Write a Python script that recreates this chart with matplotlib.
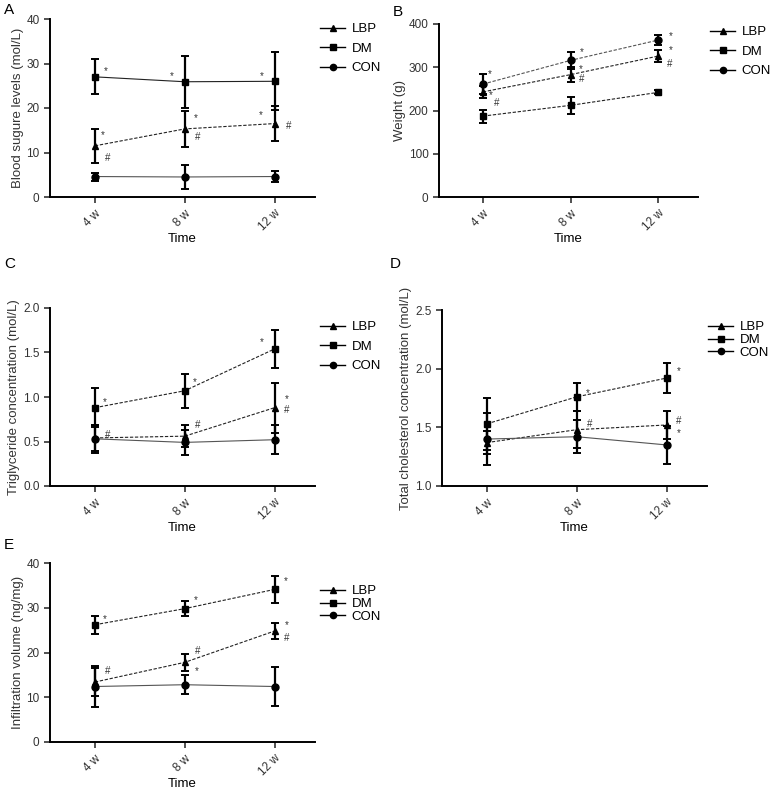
import matplotlib
matplotlib.use("Agg")
import matplotlib.pyplot as plt
from matplotlib.ticker import FormatStrFormatter

plt.rcParams["font.family"] = ["Liberation Sans", "DejaVu Sans"]

# ------------------------------------------------------------------ #
#  Data (mean, error)
# ------------------------------------------------------------------ #
times = ["4 w", "8 w", "12 w"]
groups = ["LBP", "DM", "CON"]

# A: blood sugar
sugar_lbp = [11.5, 15.3, 16.5]
sugar_lbp_err = [3.8, 4.0, 4.0]
sugar_dm = [27.0, 25.9, 26.0]
sugar_dm_err = [3.9, 5.8, 6.5]
sugar_con = [4.6, 4.5, 4.6]
sugar_con_err = [0.9, 2.7, 1.3]

# B: weight
weight_lbp = [243, 283, 326]
weight_lbp_err = [13, 17, 15]
weight_dm = [187, 212, 242]
weight_dm_err = [15, 19, 5]
weight_con = [261, 316, 363]
weight_con_err = [23, 20, 11]

# C: triglyceride
tg_lbp = [0.54, 0.56, 0.88]
tg_lbp_err = [0.15, 0.12, 0.28]
tg_dm = [0.88, 1.07, 1.54]
tg_dm_err = [0.22, 0.19, 0.21]
tg_con = [0.53, 0.49, 0.52]
tg_con_err = [0.16, 0.14, 0.16]

# D: total cholesterol
tc_lbp = [1.37, 1.48, 1.52]
tc_lbp_err = [0.10, 0.16, 0.12]
tc_dm = [1.53, 1.76, 1.92]
tc_dm_err = [0.22, 0.12, 0.13]
tc_con = [1.40, 1.42, 1.35]
tc_con_err = [0.22, 0.14, 0.16]

# E: infiltration volume
inf_lbp = [13.4, 17.8, 24.8]
inf_lbp_err = [3.2, 1.9, 1.7]
inf_dm = [26.2, 29.8, 34.1]
inf_dm_err = [2.0, 1.7, 3.0]
inf_con = [12.4, 12.8, 12.4]
inf_con_err = [4.5, 2.1, 4.4]

# significance marks: (group, time index, symbol, dx pt, dy pt)
marks_a = [("DM", 0, "*", 8, 4), ("DM", 1, "*", -9, 4), ("DM", 2, "*", -9, 4),
           ("LBP", 0, "*", 6, 8), ("LBP", 0, "#", 9, -9), ("LBP", 1, "*", 8, 8),
           ("LBP", 1, "#", 9, -6), ("LBP", 2, "*", -10, 6), ("LBP", 2, "#", 10, -2)]
marks_b = [("CON", 0, "*", 5, 7), ("CON", 1, "*", 8, 6), ("CON", 2, "*", 9, 3),
           ("LBP", 0, "*", 6, -2), ("LBP", 0, "#", 10, -8), ("LBP", 1, "*", 7, 4),
           ("LBP", 1, "#", 8, -3), ("LBP", 2, "*", 9, 4), ("LBP", 2, "#", 8, -6)]
marks_c = [("DM", 0, "*", 7, 4), ("DM", 1, "*", 7, 6), ("DM", 2, "*", -9, 5),
           ("LBP", 0, "#", 9, 2), ("LBP", 1, "#", 9, 8),
           ("LBP", 2, "*", 9, 6), ("LBP", 2, "#", 9, -2)]
marks_d = [("DM", 1, "*", 8, 3), ("DM", 2, "*", 9, 5),
           ("LBP", 1, "#", 9, 4), ("LBP", 2, "#", 9, 3), ("LBP", 2, "*", 9, -6)]
marks_e = [("DM", 0, "*", 7, 4), ("DM", 1, "*", 8, 6), ("DM", 2, "*", 8, 6),
           ("LBP", 0, "#", 9, 8), ("LBP", 1, "#", 9, 8), ("LBP", 1, "*", 9, -6),
           ("LBP", 2, "*", 9, 4), ("LBP", 2, "#", 9, -5)]

MARKERS = {"LBP": "^", "DM": "s", "CON": "o"}
DASHED = (0, (3, 1.5))
LINE_COLORS = {"LBP": "#222222", "DM": "#222222", "CON": "#555555"}

fig = plt.figure(figsize=(7.73, 7.91), dpi=100)
W, H = 773.0, 791.0


def _axes(left, top, right, bottom):
    return fig.add_axes([left / W, 1 - bottom / H, (right - left) / W, (bottom - top) / H])


def _panel(ax, series, ylabel, ylim, yticks, marks, legend_px, spacing, solid):
    x = list(range(len(times)))
    for g, (vals, errs) in zip(groups, series):
        ls = "-" if g in solid else DASHED
        ax.errorbar(x, vals, yerr=errs, fmt="none", ecolor="black",
                    elinewidth=1.6, capsize=3, capthick=1.4)
        ax.plot(x, vals, color=LINE_COLORS[g], ls=ls, lw=0.8)
        ax.plot(x, vals, ls="none", marker=MARKERS[g], ms=5, color="black")
    lookup = dict(zip(groups, series))
    for g, i, sym, dx, dy in marks:
        ax.annotate(sym, (i, lookup[g][0][i]), xytext=(dx, dy),
                    textcoords="offset points", ha="center", va="center",
                    fontsize=7, color="#333333")
    ax.set_xlim(-0.5, 2.45)
    ax.set_ylim(*ylim)
    ax.set_yticks(yticks)
    ax.set_xticks(x)
    ax.set_xticklabels(times, rotation=45, ha="right", rotation_mode="anchor")
    ax.set_xlabel("Time", fontsize=9.5, labelpad=0)
    ax.set_ylabel(ylabel, fontsize=9.5, color="#333333", labelpad=2)
    for s in ["top", "right"]:
        ax.spines[s].set_visible(False)
    for s in ["left", "bottom"]:
        ax.spines[s].set_linewidth(1.4)
    ax.tick_params(labelsize=8.5, width=1.2, length=4, colors="#333333")

    # legend: line + marker only, placed in figure pixels
    handles = [plt.Line2D([], [], color="black", lw=1.0, marker=MARKERS[g], ms=4.5)
               for g in groups]
    lx, ly = legend_px
    ax.legend(handles, groups, loc="upper left",
              bbox_to_anchor=(lx / W, 1 - ly / H), bbox_transform=fig.transFigure,
              frameon=False, fontsize=9.5, handlelength=1.9, labelspacing=spacing,
              handletextpad=0.5, borderpad=0, borderaxespad=0)


ax_a = _axes(50, 19, 315, 197)
ax_b = _axes(439, 24, 698, 197)
ax_c = _axes(50, 308, 315, 486)
ax_d = _axes(442, 310, 707, 486)
ax_e = _axes(50, 563, 315, 742)

_panel(ax_a, [(sugar_lbp, sugar_lbp_err), (sugar_dm, sugar_dm_err), (sugar_con, sugar_con_err)],
       "Blood sugure levels (mol/L)", (0, 40), [0, 10, 20, 30, 40], marks_a,
       (320, 23), 0.55, solid=("DM", "CON"))
_panel(ax_b, [(weight_lbp, weight_lbp_err), (weight_dm, weight_dm_err), (weight_con, weight_con_err)],
       "Weight (g)", (0, 400), [0, 100, 200, 300, 400], marks_b, (710, 26), 0.55, solid=())
_panel(ax_c, [(tg_lbp, tg_lbp_err), (tg_dm, tg_dm_err), (tg_con, tg_con_err)],
       "Triglyceride concentration (mol/L)", (0, 2.0), [0.0, 0.5, 1.0, 1.5, 2.0], marks_c,
       (320, 321), 0.55, solid=("CON",))
_panel(ax_d, [(tc_lbp, tc_lbp_err), (tc_dm, tc_dm_err), (tc_con, tc_con_err)],
       "Total cholesterol concentration (mol/L)", (1.0, 2.5), [1.0, 1.5, 2.0, 2.5], marks_d,
       (708, 321), 0.05, solid=("CON",))
_panel(ax_e, [(inf_lbp, inf_lbp_err), (inf_dm, inf_dm_err), (inf_con, inf_con_err)],
       "Infiltration volume (ng/mg)", (0, 40), [0, 10, 20, 30, 40], marks_e,
       (320, 585), 0.05, solid=("CON",))

ax_c.yaxis.set_major_formatter(FormatStrFormatter("%.1f"))
ax_d.yaxis.set_major_formatter(FormatStrFormatter("%.1f"))

for letter, px, py in [("A", 4, 3), ("B", 393, 5), ("C", 4, 257), ("D", 390, 257), ("E", 4, 538)]:
    fig.text(px / W, 1 - py / H, letter, fontsize=11, ha="left", va="top")

fig.savefig("out.png", dpi=100)
